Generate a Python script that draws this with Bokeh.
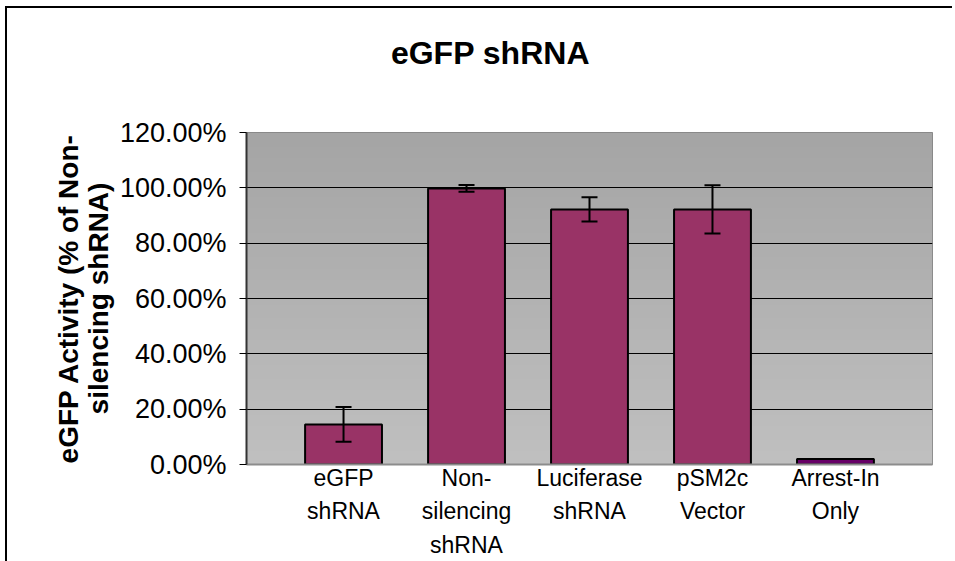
import numpy as np
from bokeh.plotting import figure
from bokeh.layouts import column
from bokeh.models import (ColumnDataSource, FixedTicker, PrintfTickFormatter, Range1d,
                          Whisker, TeeHead)
from bokeh.core.properties import value
from bokeh.embed import file_html
from bokeh.resources import INLINE

# ---- data ----
categories = ["eGFP\nshRNA", "Non-\nsilencing\nshRNA", "Luciferase\nshRNA", "pSM2c\nVector", "Arrest-In\nOnly"]
activity = [14.5, 99.8, 92.2, 92.2, 2.0]      # % of non-silencing shRNA
errors = [6.3, 1.2, 4.4, 8.7, 0.0]
bar_colors = ["#993366", "#993366", "#993366", "#993366", "#660066"]
y_ticks = [0, 20, 40, 60, 80, 100, 120]
title_text = "eGFP shRNA"
y_label = "eGFP Activity (% of Non-\nsilencing shRNA)"

xs = list(range(1, len(categories) + 1))
FONT = "Liberation Sans"
X0, X1 = 0.211, 5.789
xr = Range1d(X0, X1)

# ---- title strip (its frame is aligned with the chart frame by the column) ----
t = figure(width=945, height=90, output_backend="svg", toolbar_location=None,
           x_range=xr, y_range=Range1d(0, 90), min_border=0,
           min_border_left=239, min_border_right=20,
           x_axis_location=None, y_axis_location=None)
t.grid.visible = False
t.outline_line_color = None
t.text(x=[2.195], y=[46], text=[title_text], text_align="center", text_baseline="middle",
       text_font=value(FONT), text_font_style="bold", text_font_size="32px", text_color="black")

# ---- main chart ----
p = figure(width=945, height=463, output_backend="svg", toolbar_location=None,
           x_range=xr, y_range=Range1d(0, 120),
           min_border_left=239, min_border_top=34, min_border_right=20, min_border_bottom=97)

# plot-area gradient background
H = 120
g = np.linspace(192, 165, H).astype(np.uint32)
img = np.empty((H, 1), dtype=np.uint32)
img[:, 0] = g | (g << 8) | (g << 16) | (255 << 24)
bg = p.image_rgba(image=[img], x=X0, y=0, dw=X1 - X0, dh=120)
bg.level = "image"

src = ColumnDataSource(dict(x=xs, top=activity, color=bar_colors))
p.vbar(x="x", top="top", width=0.625, bottom=0, fill_color="color",
       line_color="black", line_width=2, source=src)

idx = [i for i, e in enumerate(errors) if e > 0]
wsrc = ColumnDataSource(dict(x=[xs[i] for i in idx],
                             upper=[activity[i] + errors[i] for i in idx],
                             lower=[activity[i] - errors[i] for i in idx]))
w = Whisker(base="x", upper="upper", lower="lower", source=wsrc, dimension="height",
            line_color="black", line_width=2, level="annotation",
            upper_head=TeeHead(size=16, line_color="black", line_width=2),
            lower_head=TeeHead(size=16, line_color="black", line_width=2))
p.add_layout(w)

# axes
p.yaxis.ticker = FixedTicker(ticks=y_ticks)
p.yaxis.formatter = PrintfTickFormatter(format="%.2f%%")
p.yaxis.major_label_text_font = FONT
p.yaxis.major_label_text_font_size = "27px"
p.yaxis.major_label_text_color = "black"
p.yaxis.major_tick_in = 0
p.yaxis.major_tick_out = 7
p.yaxis.major_tick_line_color = "black"
p.yaxis.minor_tick_line_color = None
p.yaxis.axis_line_color = "#333333"
p.yaxis.axis_line_width = 2
p.yaxis.major_label_standoff = 13
p.yaxis.axis_label = y_label
p.yaxis.axis_label_text_font = FONT
p.yaxis.axis_label_text_font_style = "bold"
p.yaxis.axis_label_text_font_size = "28px"
p.yaxis.axis_label_text_color = "black"
p.yaxis.axis_label_text_line_height = 0.95
p.yaxis.axis_label_standoff = 3

p.xaxis.ticker = FixedTicker(ticks=xs)
p.xaxis.major_label_overrides = {x: c for x, c in zip(xs, categories)}
p.xaxis.major_label_text_font = FONT
p.xaxis.major_label_text_font_size = "23px"
p.xaxis.major_label_text_color = "black"
p.xaxis.major_label_text_line_height = 1.3
p.xaxis.major_tick_in = 0
p.xaxis.major_tick_out = 0
p.xaxis.major_tick_line_color = None
p.xaxis.minor_tick_line_color = None
p.xaxis.axis_line_color = "#8c8c8c"
p.xaxis.axis_line_width = 2
p.xaxis.major_label_standoff = 0

p.xgrid.grid_line_color = None
p.ygrid.grid_line_color = "black"
p.ygrid.grid_line_width = 1
p.ygrid.ticker = FixedTicker(ticks=y_ticks)

p.outline_line_color = "#808080"
p.outline_line_width = 1
p.background_fill_color = "#b0b0b0"
p.border_fill_color = "white"

layout = column(t, p, spacing=0)
layout.styles = {"margin-left": "5px", "margin-top": "6px",
                 "border-left": "2px solid #000000", "border-top": "2px solid #000000"}

open("out.html", "w").write(file_html(layout, INLINE))
